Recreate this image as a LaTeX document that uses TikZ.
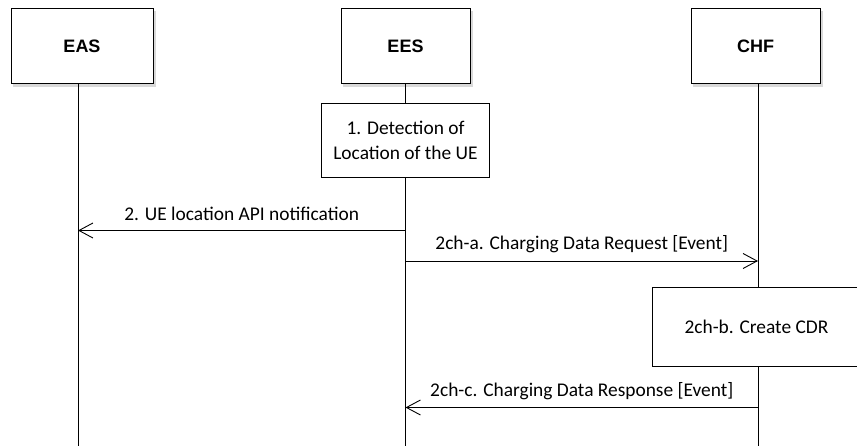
\documentclass[tikz,border=0pt]{standalone}
\usepackage{fontspec}
\setmainfont{Carlito}
\newfontfamily\hdrfont{Liberation Sans}
\usetikzlibrary{arrows.meta,positioning}
\begin{document}
\begin{tikzpicture}[x=1pt,y=-1pt,
  hdr/.style={draw=black, line width=1pt, fill=white, minimum width=142pt, minimum height=75pt, inner sep=0pt, font=\hdrfont\bfseries\fontsize{18}{20}\selectfont},
  lifeline/.style={draw=black, line width=0.9pt},
  procbox/.style={draw=black, line width=0.9pt, fill=white, inner sep=0pt, align=center, font=\fontsize{19.4}{25}\selectfont},
  msg/.style={draw=black, line width=0.9pt, -{Straight Barb[length=14pt,width=15pt,line width=0.9pt]}},
  msglabel/.style={font=\fontsize{19.4}{22}\selectfont, inner sep=0pt}
]
\useasboundingbox (0,0) rectangle (857,446);
% shadows
\fill[black!15] (13,11) rectangle (156,87);
\fill[black!15] (343,11) rectangle (473,87);
\fill[black!15] (693,11) rectangle (823,87);
% header boxes
\node[hdr, minimum width=142pt] (eas) at (82,46.5) {EAS};
\node[hdr, minimum width=129pt] (ees) at (405.5,46.5) {EES};
\node[hdr, minimum width=129pt] (chf) at (755.5,46.5) {CHF};
% lifeline ends
\coordinate (easEnd) at (78,446);
\coordinate (eesEnd) at (405.5,446);
\coordinate (chfEnd) at (758,446);
\coordinate (easTop) at (78,84);
\coordinate (chfTop) at (758,84);
\draw[lifeline] (easTop) -- (easEnd);
\draw[lifeline] (ees.south) -- (eesEnd);
\draw[lifeline] (chfTop) -- (chfEnd);
% process boxes
\node[procbox, minimum width=168pt, minimum height=74pt] (detect) at (405.5,140) {1. Detection of\\Location of the UE};
\node[procbox, minimum width=208pt, minimum height=79pt, anchor=north west] (cdr) at (652,287) {2ch-b. Create CDR};
% messages
\coordinate (m2s) at (405.5,230.5);
\coordinate (m2e) at (78,230.5);
\draw[msg] (m2s) -- node[msglabel, above=9pt] {2. UE location API notification} (m2e);
\coordinate (m3s) at (405.5,261);
\coordinate (m3e) at (758,261);
\draw[msg] (m3s) -- node[msglabel, above=8pt] {2ch-a. Charging Data Request [Event]} (m3e);
\coordinate (m4s) at (758,407.5);
\coordinate (m4e) at (405.5,407.5);
\draw[msg] (m4s) -- node[msglabel, above=7pt] {2ch-c. Charging Data Response [Event]} (m4e);
\end{tikzpicture}
\end{document}
